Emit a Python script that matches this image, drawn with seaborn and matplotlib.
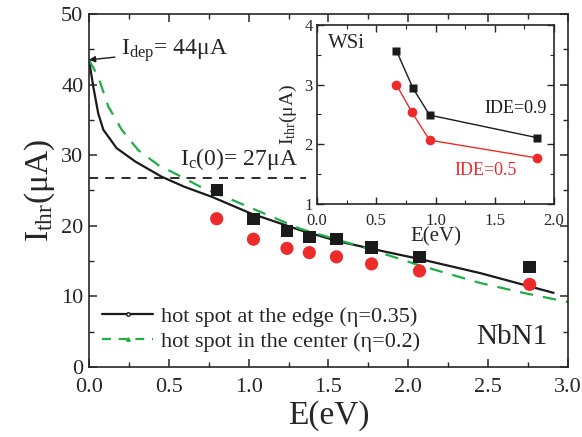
import matplotlib
matplotlib.use("Agg")
import matplotlib.pyplot as plt
from matplotlib.lines import Line2D
from matplotlib.ticker import MultipleLocator
import seaborn as sns

# NbN1 model curves
edge_E = [0.0, 0.027, 0.058, 0.09, 0.173, 0.29, 0.455, 0.60, 0.77, 1.008, 1.32, 1.57, 1.82, 2.07, 2.45, 2.91]
edge_I = [43.5, 39.7, 35.9, 33.6, 31.0, 29.1, 26.95, 25.5, 24.1, 21.8, 19.4, 17.75, 16.5, 15.3, 13.3, 10.5]
center_E = [0.0, 0.058, 0.121, 0.205, 0.309, 0.434, 0.60, 0.716, 0.872, 1.07, 1.32, 1.77, 2.07, 2.45, 2.72, 3.0]
center_I = [43.5, 41.1, 36.9, 33.6, 30.7, 28.6, 26.7, 25.3, 23.9, 22.0, 19.6, 16.6, 14.4, 11.9, 10.5, 9.2]

# NbN1 measured thresholds
nbn_E = [0.80, 1.03, 1.24, 1.38, 1.55, 1.77, 2.07, 2.76]
nbn_sq = [25.1, 21.0, 19.3, 18.4, 18.1, 16.9, 15.6, 14.2]
nbn_circ = [21.0, 18.1, 16.8, 16.2, 15.6, 14.6, 13.6, 11.7]

I_c0 = 26.7

# WSi inset
wsi_E09 = [0.67, 0.81, 0.95, 1.86]
wsi_I09 = [3.57, 2.94, 2.49, 2.11]
wsi_E05 = [0.67, 0.80, 0.95, 1.86]
wsi_I05 = [3.00, 2.54, 2.07, 1.77]

RED = "#ee2b2b"
GREEN = "#1fae45"

sns.set_theme(style="ticks")
plt.rcParams["font.family"] = ["Liberation Serif", "DejaVu Serif"]
plt.rcParams["mathtext.fontset"] = "custom"
plt.rcParams["mathtext.rm"] = "Liberation Serif"
plt.rcParams["mathtext.it"] = "Liberation Serif:italic"
plt.rcParams["axes.linewidth"] = 1.2

fig = plt.figure(figsize=(5.82, 4.37), dpi=100)
ax = fig.add_axes([0.1529, 0.1602, 0.823, 0.8078])

sns.lineplot(x=edge_E, y=edge_I, color="k", lw=1.6, ax=ax, sort=False)
sns.lineplot(x=center_E, y=center_I, color=GREEN, lw=1.6, ax=ax, sort=False,
             linestyle=(0, (6, 4.5)))
ax.plot([0, 1.36], [I_c0, I_c0], color="k", lw=1.3, linestyle=(0, (5, 4)))

sns.scatterplot(x=nbn_E, y=nbn_sq, marker="s", s=80, color="k", edgecolor="none", ax=ax, zorder=3)
sns.scatterplot(x=nbn_E, y=nbn_circ, marker="o", s=90, color=RED, edgecolor="none", ax=ax, zorder=3)

ax.set_xlim(0, 3.0)
ax.set_ylim(0, 50)
ax.xaxis.set_major_locator(MultipleLocator(0.5))
ax.xaxis.set_minor_locator(MultipleLocator(0.25))
ax.yaxis.set_major_locator(MultipleLocator(10))
ax.yaxis.set_minor_locator(MultipleLocator(5))
ax.tick_params(which="both", direction="in", top=True, right=True, labelsize=16)
ax.tick_params(axis="x", pad=8)
ax.tick_params(axis="y", pad=4)
ax.tick_params(which="major", length=6, width=1.1)
ax.tick_params(which="minor", length=3.5, width=1.0)
ax.set_xlabel("E(eV)", fontsize=24, labelpad=2)
ax.set_ylabel(r"$\mathrm{I_{thr}(μA)}$", fontsize=24, labelpad=3)

ax.annotate(r"$\mathrm{I_{dep}}$= 44μA", xy=(0.0, 43.5), xytext=(0.2, 44.2),
            fontsize=17, va="baseline", ha="left",
            arrowprops=dict(arrowstyle="-|>", color="k", lw=1.0, mutation_scale=9,
                            shrinkA=2, shrinkB=0))
ax.text(0.57, 28.6, r"$\mathrm{I_c}$(0)= 27μA", fontsize=17, va="baseline", ha="left")
ax.text(2.87, 3.3, "NbN1", fontsize=21, ha="right", va="baseline")

handles = [
    Line2D([], [], color="k", lw=1.6, marker="o", ms=2.5, mfc="w", mec="k"),
    Line2D([], [], color=GREEN, lw=1.6, linestyle=(0, (4, 3.5)), marker="^", ms=2.5,
           mfc=GREEN, mec=GREEN),
]
ax.legend(handles, ["hot spot at the edge (η=0.35)", "hot spot in the center (η=0.2)"],
          loc="lower left", bbox_to_anchor=(0.0, 0.005), frameon=False, fontsize=16,
          handlelength=2.3, handletextpad=0.35, labelspacing=0.2, borderaxespad=0.2,
          numpoints=1)

# inset
axin = fig.add_axes([0.5447, 0.5332, 0.4072, 0.4096])
axin.set_facecolor("white")
sns.lineplot(x=wsi_E09, y=wsi_I09, color="k", lw=1.0, marker="s", markersize=6,
             markeredgecolor="none", ax=axin, sort=False)
sns.lineplot(x=wsi_E05, y=wsi_I05, color=RED, lw=1.0, marker="o", markersize=7,
             markeredgecolor="none", ax=axin, sort=False)
axin.set_xlim(0, 2.0)
axin.set_ylim(1, 4)
axin.xaxis.set_major_locator(MultipleLocator(0.5))
axin.xaxis.set_minor_locator(MultipleLocator(0.25))
axin.yaxis.set_major_locator(MultipleLocator(1))
axin.yaxis.set_minor_locator(MultipleLocator(0.5))
axin.tick_params(which="both", direction="in", top=True, right=True, labelsize=12)
axin.tick_params(axis="x", pad=6.5)
axin.tick_params(axis="y", pad=3)
axin.tick_params(which="major", length=5, width=1.0)
axin.tick_params(which="minor", length=3, width=0.8)
axin.set_xlabel("E(eV)", fontsize=15, labelpad=-1)
axin.set_ylabel(r"$\mathrm{I_{thr}(μA)}$", fontsize=14, labelpad=4)
axin.text(0.09, 3.61, "WSi", fontsize=15, ha="left", va="baseline")
axin.text(1.41, 2.53, "IDE=0.9", fontsize=13, ha="left", va="baseline", color="k")
axin.text(1.16, 1.49, "IDE=0.5", fontsize=13, ha="left", va="baseline", color=RED)

fig.savefig("out.png", dpi=100)
plt.close(fig)
